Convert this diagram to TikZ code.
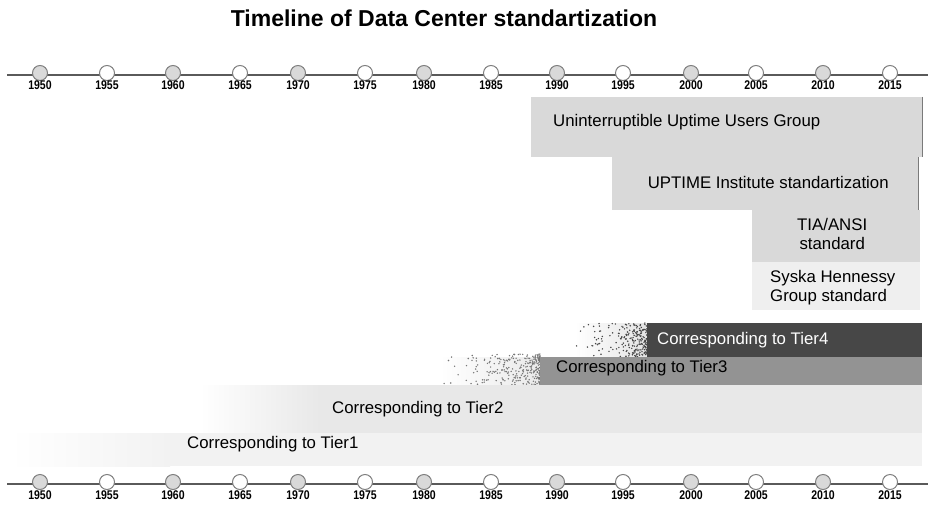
\documentclass[tikz,border=0pt]{standalone}
\usepackage{fontspec}
\usepackage{graphicx}
\setmainfont{Liberation Sans}
\usetikzlibrary{positioning}
\definecolor{dotfill}{HTML}{D9D9D9}
\definecolor{ringgray}{HTML}{808080}
\definecolor{axisgray}{HTML}{5A5A5A}
\definecolor{bargray}{HTML}{D9D9D9}
\definecolor{barlight}{HTML}{EFEFEF}
\definecolor{edgegray}{HTML}{7A7A7A}
\definecolor{tierfour}{HTML}{474747}
\definecolor{tierthree}{HTML}{939393}
\definecolor{tiertwo}{HTML}{E8E8E8}
\definecolor{tierone}{HTML}{F2F2F2}
\tikzset{
  yearmark/.style={circle, draw=ringgray, line width=1pt, minimum size=15pt, inner sep=0pt},
  yearlab/.style={font=\fontsize{10.5}{10.5}\selectfont\bfseries, inner sep=0pt},
  axisline/.style={draw=axisgray, line width=1.3pt},
  barbox/.style={rectangle, anchor=north west, inner sep=0pt},
  bartext/.style={font=\fontsize{16.8}{19}\selectfont, inner sep=0pt},
}
\begin{document}
\begin{tikzpicture}[x=1pt,y=-1pt]
\useasboundingbox (0,0) rectangle (928,524);
% title
\node[font=\fontsize{23}{26}\selectfont\bfseries] (title) at (444,18) {Timeline of Data Center standartization};
% time axes, top and bottom
\foreach \row/\ly in {top/75, bot/484} {
  \draw[axisline] (7,\ly) -- (928,\ly);
  \foreach \yr/\xx/\col in {1950/40/dotfill, 1955/107/white, 1960/173/dotfill, 1965/240/white,
                            1970/298/dotfill, 1975/365/white, 1980/424/dotfill, 1985/491/white,
                            1990/557/dotfill, 1995/623/white, 2000/691/dotfill, 2005/756/white,
                            2010/823/dotfill, 2015/890/white} {
    \node[yearmark, fill=\col] (\row\yr) at (\xx,\ly-2) {};
    \node[yearlab, below=0pt of \row\yr] (lab\row\yr) {\scalebox{1}[1.2]{\yr}};
  }
}
% standards
\node[barbox, fill=bargray, minimum width=391pt, minimum height=60pt] (uuug) at (531,97) {};
\draw[edgegray, line width=1pt] (uuug.north east) -- (uuug.south east);
\node[bartext, anchor=west] (uuugtxt) at ([xshift=22pt,yshift=5pt]uuug.west) {Uninterruptible Uptime Users Group};
\node[barbox, fill=bargray, minimum width=306pt, minimum height=53pt] (uptime) at (612,157) {};
\draw[edgegray, line width=1pt] (uptime.north east) -- (uptime.south east);
\node[bartext] (uptimetxt) at ([xshift=3pt,yshift=1pt]uptime.center) {UPTIME Institute standartization};
\node[barbox, fill=bargray, minimum width=168pt, minimum height=52pt] (tia) at (752,210) {};
\node[bartext, align=center] (tiatxt) at ([xshift=-4pt,yshift=2pt]tia.center) {TIA/ANSI\\standard};
\node[barbox, fill=barlight, minimum width=168pt, minimum height=48pt] (syska) at (752,262) {};
\node[bartext, align=left, anchor=west] (syskatxt) at ([xshift=18pt,yshift=-1pt]syska.west) {Syska Hennessy\\Group standard};
% tiers, faded towards the past
\shade[left color=white, right color=tierone] (10,433) rectangle (170,466);
\shade[left color=white, right color=tiertwo] (200,385) rectangle (320,433);
\shade[left color=white, right color=tierthree!20] (440,357) rectangle (540,385);
\shade[left color=white, right color=tierfour!15] (575,323) rectangle (647,357);
\pgfmathsetseed{11}
\foreach \k in {1,...,260} {
  \pgfmathsetmacro\px{540-100*rnd*rnd}
  \pgfmathsetmacro\py{354+31*rnd}
  \fill[tierthree!80!black] (\px,\py) circle (0.8pt);
}
\foreach \k in {1,...,220} {
  \pgfmathsetmacro\px{647-72*rnd*rnd}
  \pgfmathsetmacro\py{323+34*rnd}
  \fill[tierfour] (\px,\py) circle (0.8pt);
}
\node[barbox, fill=tierone, minimum width=752pt, minimum height=33pt] (tier1) at (170,433) {};
\node[bartext, anchor=west] (tier1txt) at ([xshift=17pt,yshift=6pt]tier1.west) {Corresponding to Tier1};
\node[barbox, fill=tiertwo, minimum width=602pt, minimum height=48pt] (tier2) at (320,385) {};
\node[bartext, anchor=west] (tier2txt) at ([xshift=12pt]tier2.west) {Corresponding to Tier2};
\node[barbox, fill=tierthree, minimum width=382pt, minimum height=28pt] (tier3) at (540,357) {};
\node[bartext, anchor=west] (tier3txt) at ([xshift=16pt,yshift=3pt]tier3.west) {Corresponding to Tier3};
\node[barbox, fill=tierfour, minimum width=275pt, minimum height=34pt] (tier4) at (647,323) {};
\node[bartext, anchor=west, text=white] (tier4txt) at ([xshift=10pt]tier4.west) {Corresponding to Tier4};
\end{tikzpicture}
\end{document}
